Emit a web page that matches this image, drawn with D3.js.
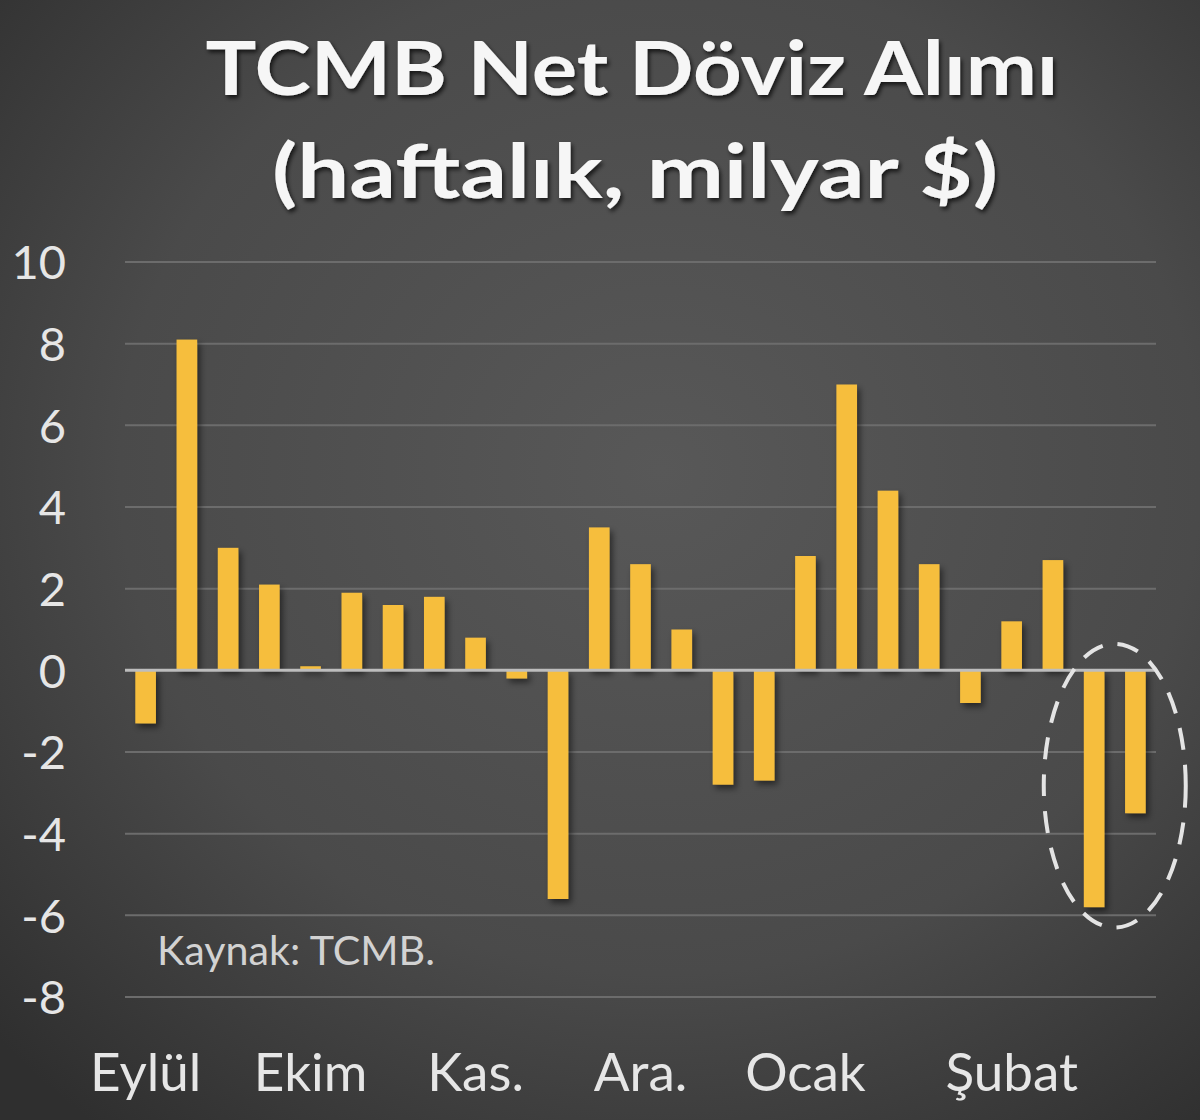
<!DOCTYPE html>
<html><head><meta charset="utf-8">
<script src="https://cdn.jsdelivr.net/npm/d3@7"></script>
<style>html,body{margin:0;padding:0;background:#3c3c3c;}svg{display:block;}</style>
</head><body>
<script>
const titleLines = ["TCMB Net Döviz Alımı", "(haftalık, milyar $)"];
const weeks = d3.range(25).map(i => "w" + (i + 1));
const values = [-1.3, 8.1, 3.0, 2.1, 0.1, 1.9, 1.6, 1.8, 0.8, -0.2, -5.6, 3.5, 2.6, 1.0, -2.8, -2.7, 2.8, 7.0, 4.4, 2.6, -0.8, 1.2, 2.7, -5.8, -3.5];
const monthLabels = ["Eylül", "Ekim", "Kas.", "Ara.", "Ocak", "Şubat"];
const monthAtWeek = [0, 4, 8, 12, 16, 21];
const yTicks = [-8, -6, -4, -2, 0, 2, 4, 6, 8, 10];
const highlightWeeks = [23, 24];
const sourceText = "Kaynak: TCMB.";

const W = 1200, H = 1120;
const svg = d3.select("body").append("svg").attr("width", W).attr("height", H);
const defs = svg.append("defs");
const rg = defs.append("radialGradient").attr("id", "bg")
  .attr("cx", "0.55").attr("cy", "0.42").attr("r", "0.75");
rg.append("stop").attr("offset", "0").attr("stop-color", "#585858");
rg.append("stop").attr("offset", "0.6").attr("stop-color", "#4a4a4a");
rg.append("stop").attr("offset", "1").attr("stop-color", "#2f2f2f");
const sh = defs.append("filter").attr("id", "tshadow").attr("x", "-10%").attr("y", "-20%").attr("width", "120%").attr("height", "150%");
sh.append("feDropShadow").attr("dx", 2).attr("dy", 3).attr("stdDeviation", 2).attr("flood-color", "#000").attr("flood-opacity", 0.7);
const bs = defs.append("filter").attr("id", "bshadow").attr("x", "-30%").attr("y", "-10%").attr("width", "160%").attr("height", "130%");
bs.append("feDropShadow").attr("dx", 3).attr("dy", 4).attr("stdDeviation", 3).attr("flood-color", "#000").attr("flood-opacity", 0.5);

svg.append("rect").attr("width", W).attr("height", H).attr("fill", "url(#bg)");

const x = d3.scaleBand().domain(weeks).range([125, 1156]).paddingInner(0.5).paddingOuter(0.25);
const y = d3.scaleLinear().domain([-8, 10]).range([997, 262]);

// title (reference text is horizontally stretched)
const titleBox = [{cx: 632, y: 95, len: 853}, {cx: 635, y: 198, len: 726}];
svg.append("g").attr("filter", "url(#tshadow)").selectAll("text").data(titleLines).join("text")
  .attr("x", (d, i) => titleBox[i].cx - titleBox[i].len / 2).attr("y", (d, i) => titleBox[i].y)
  .attr("textLength", (d, i) => titleBox[i].len).attr("lengthAdjust", "spacingAndGlyphs")
  .attr("font-family", "Lato, 'Open Sans', sans-serif").attr("font-weight", 700)
  .attr("font-size", 74).attr("fill", "#f6f6f6").text(d => d);

// y axis labels
const yAxis = d3.axisLeft(y).tickValues(yTicks).tickSize(0).tickPadding(0).tickFormat(d => String(d));
const gy = svg.append("g").attr("transform", "translate(66,0)").call(yAxis);
gy.select(".domain").remove();
gy.selectAll("text").attr("font-family", "Lato, 'Open Sans', sans-serif").attr("font-size", 47)
  .attr("fill", "#e6e6e6").attr("dy", "0.36em");

// grid
svg.append("g").selectAll("line").data(yTicks.filter(d => d !== 0)).join("line")
  .attr("x1", 125).attr("x2", 1156).attr("y1", d => y(d)).attr("y2", d => y(d))
  .attr("stroke", "#6c6c6c").attr("stroke-width", 2);

// bars
svg.append("g").attr("filter", "url(#bshadow)").selectAll("rect").data(values).join("rect")
  .attr("x", (d, i) => x(weeks[i])).attr("width", x.bandwidth())
  .attr("y", d => y(Math.max(0, d))).attr("height", d => Math.abs(y(d) - y(0)))
  .attr("fill", "#f6be3c");

// zero line
svg.append("line").attr("x1", 125).attr("x2", 1156).attr("y1", y(0)).attr("y2", y(0))
  .attr("stroke", "#bdbdbd").attr("stroke-width", 3);

// x labels
const xAxis = d3.axisBottom(x).tickValues(monthAtWeek.map(i => weeks[i])).tickSize(0).tickPadding(0)
  .tickFormat(d => monthLabels[monthAtWeek.indexOf(weeks.indexOf(d))]);
const gx = svg.append("g").attr("transform", "translate(0,1091)").call(xAxis);
gx.select(".domain").remove();
gx.selectAll("text").attr("font-family", "Lato, 'Open Sans', sans-serif").attr("font-size", 53)
  .attr("fill", "#e6e6e6").attr("dy", 0);

// source
svg.append("text").attr("x", 157).attr("y", 965).attr("font-family", "Lato, 'Open Sans', sans-serif")
  .attr("font-size", 40).attr("textLength", 278).attr("lengthAdjust", "spacingAndGlyphs")
  .attr("fill", "#d2d2d2").text(sourceText);

// highlight ellipse
const hx0 = x(weeks[highlightWeeks[0]]), hx1 = x(weeks[highlightWeeks[1]]) + x.bandwidth();
const yTop = y(0.65), yBot = y(-6.3);
svg.append("ellipse").attr("cx", (hx0 + hx1) / 2).attr("cy", (yTop + yBot) / 2)
  .attr("rx", 71).attr("ry", (yBot - yTop) / 2)
  .attr("fill", "none").attr("stroke", "#e4e4e4").attr("stroke-width", 4)
  .attr("stroke-dasharray", "22 15");
</script>
</body></html>
